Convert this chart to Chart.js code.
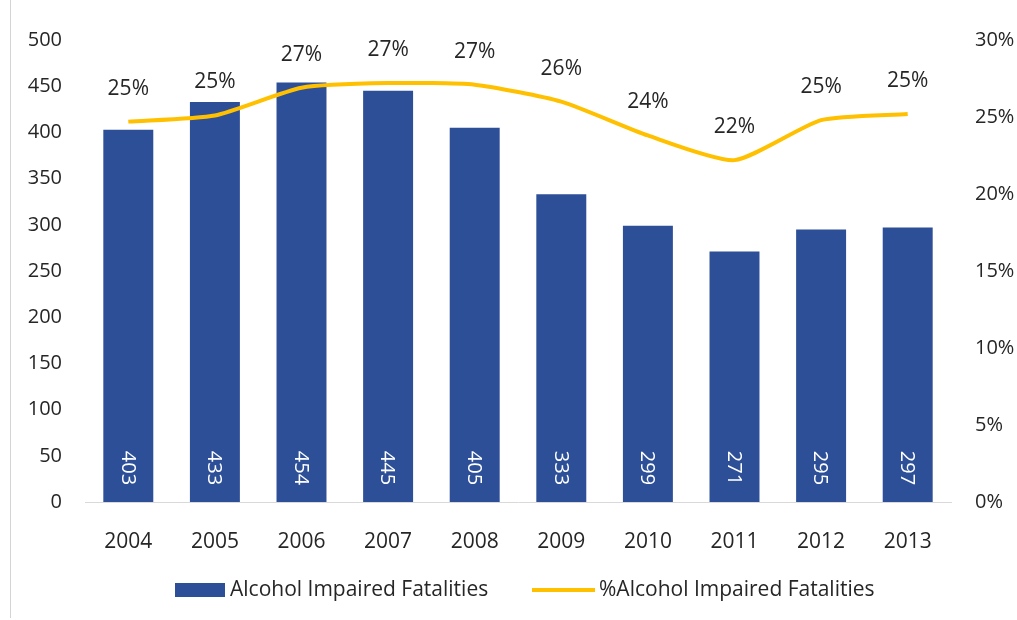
<!DOCTYPE html>
<html>
<head>
<meta charset="utf-8">
<script src="https://cdn.jsdelivr.net/npm/chart.js@4/dist/chart.umd.min.js"></script>
<style>
  html, body { margin: 0; padding: 0; background: #fff; }
  #wrap { position: relative; width: 1017px; height: 620px; }
  #edge { position: absolute; left: 10px; top: 0; width: 0; height: 618px; border-left: 1px solid #d4d4d4; }
</style>
</head>
<body>
<div id="wrap">
  <canvas id="c" width="1017" height="620"></canvas>
  <div id="edge"></div>
</div>
<script>
const years = ['2004','2005','2006','2007','2008','2009','2010','2011','2012','2013'];
const fatalities = [403, 433, 454, 445, 405, 333, 299, 271, 295, 297];
const pctFatalities = [24.7, 25.1, 26.9, 27.2, 27.1, 26.0, 23.8, 22.2, 24.8, 25.2];
const leftTicks = [0, 50, 100, 150, 200, 250, 300, 350, 400, 450, 500];
const rightTicks = [0, 5, 10, 15, 20, 25, 30];
const barLabel = 'Alcohol Impaired Fatalities';
const lineLabel = '%Alcohol Impaired Fatalities';

const BAR_COLOR = '#2D4F98';
const LINE_COLOR = '#FFC000';
const TEXT_COLOR = '#262626';
const FONT = '"Open Sans", "DejaVu Sans", sans-serif';

const labelPlugin = {
  id: 'labels',
  afterDatasetsDraw(chart) {
    const ctx = chart.ctx;
    const barMeta = chart.getDatasetMeta(0);
    ctx.save();
    ctx.fillStyle = '#ffffff';
    ctx.font = '20px ' + FONT;
    ctx.textAlign = 'center';
    ctx.textBaseline = 'middle';
    const base = chart.scales.y.getPixelForValue(0);
    barMeta.data.forEach((el, i) => {
      ctx.save();
      ctx.translate(el.x, base - 34);
      ctx.rotate(Math.PI / 2);
      ctx.fillText(String(fatalities[i]), 0, 1);
      ctx.restore();
    });
    const lineMeta = chart.getDatasetMeta(1);
    ctx.fillStyle = TEXT_COLOR;
    ctx.font = '21px ' + FONT;
    lineMeta.data.forEach((pt, i) => {
      ctx.fillText(Math.round(pctFatalities[i]) + '%', pt.x, pt.y - 33);
    });
    ctx.restore();
  }
};

// Legend drawn in the style of the original (wide swatch, tight text gap)
const legendPlugin = {
  id: 'customLegend',
  afterDraw(chart) {
    const ctx = chart.ctx;
    const y = 590;
    ctx.save();
    ctx.font = '21px ' + FONT;
    ctx.textBaseline = 'middle';
    ctx.textAlign = 'left';
    ctx.fillStyle = BAR_COLOR;
    ctx.fillRect(175, y - 7, 50, 14);
    ctx.fillStyle = TEXT_COLOR;
    ctx.fillText(barLabel, 230, y);
    ctx.strokeStyle = LINE_COLOR;
    ctx.lineWidth = 4;
    ctx.beginPath();
    ctx.moveTo(532, y);
    ctx.lineTo(595, y);
    ctx.stroke();
    ctx.fillText(lineLabel, 599, y);
    ctx.restore();
  }
};

new Chart(document.getElementById('c'), {
  data: {
    labels: years,
    datasets: [
      {
        type: 'bar',
        label: barLabel,
        data: fatalities,
        backgroundColor: BAR_COLOR,
        borderWidth: 0,
        barPercentage: 1,
        categoryPercentage: 0.577,
        yAxisID: 'y',
        order: 2
      },
      {
        type: 'line',
        label: lineLabel,
        data: pctFatalities,
        borderColor: LINE_COLOR,
        backgroundColor: LINE_COLOR,
        borderWidth: 4,
        pointRadius: 0,
        tension: 0.2,
        yAxisID: 'y1',
        order: 1
      }
    ]
  },
  options: {
    responsive: false,
    animation: false,
    devicePixelRatio: 1,
    layout: { padding: { top: 40, left: 0, right: 0, bottom: 54 } },
    plugins: {
      tooltip: { enabled: false },
      legend: { display: false }
    },
    scales: {
      x: {
        grid: { display: false },
        border: { display: true, color: '#D9D9D9', width: 1 },
        ticks: { color: TEXT_COLOR, font: { family: FONT, size: 21 }, padding: 19 },
        afterFit(s) { s.height = 64; }
      },
      y: {
        position: 'left',
        min: 0, max: 500,
        grid: { display: false, drawTicks: false },
        border: { display: false },
        afterBuildTicks(s) { s.ticks = leftTicks.map(v => ({ value: v })); },
        ticks: { color: TEXT_COLOR, font: { family: FONT, size: 20 }, padding: 23 },
        afterFit(s) { s.width = 85; }
      },
      y1: {
        position: 'right',
        min: 0, max: 30,
        grid: { display: false, drawTicks: false },
        border: { display: false },
        afterBuildTicks(s) { s.ticks = rightTicks.map(v => ({ value: v })); },
        ticks: { color: TEXT_COLOR, font: { family: FONT, size: 20 }, padding: 24, callback: v => v + '%' },
        afterFit(s) { s.width = 66; }
      }
    }
  },
  plugins: [labelPlugin, legendPlugin]
});
</script>
</body>
</html>
